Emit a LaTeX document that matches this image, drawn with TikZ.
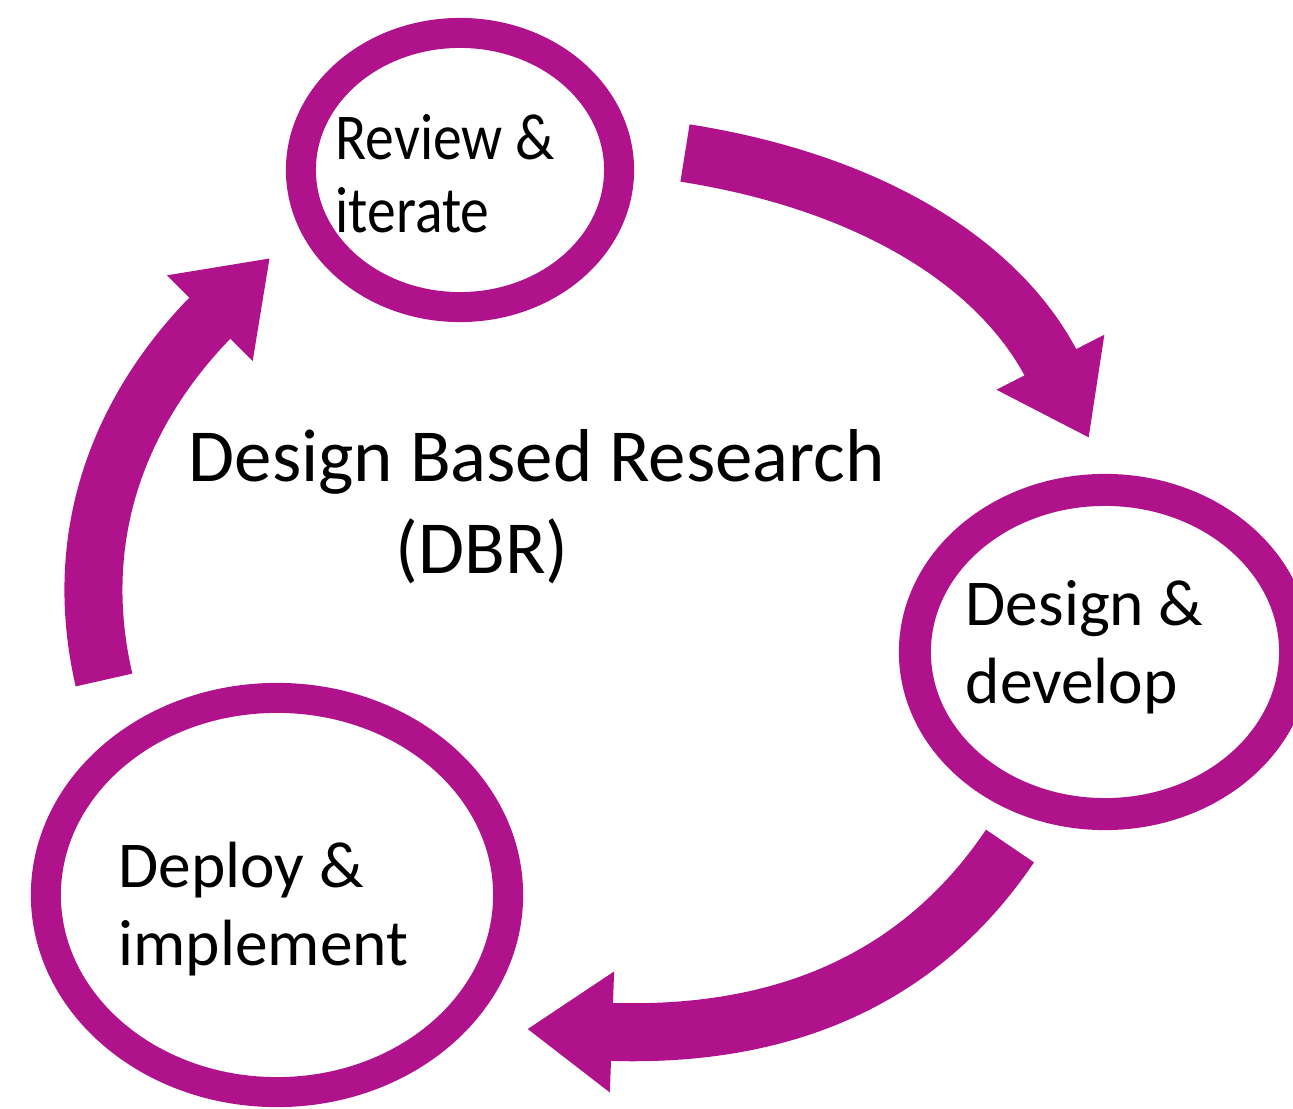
\documentclass[tikz,border=0pt]{standalone}
\usepackage{fontspec}
\setmainfont{Carlito}
\usetikzlibrary{arrows.meta,shapes.geometric}
\definecolor{dbrpurple}{RGB}{176,18,140}

\begin{document}
\begin{tikzpicture}[x=0.01cm, y=0.01cm,
        stage/.style={ellipse, draw=dbrpurple, line width=0.3cm, inner sep=0},
        stagetext/.style={align=left, inner sep=0, anchor=base west, font=\fontsize{18.6}{21.9}\selectfont},
        dbrarrow/.style={draw=dbrpurple, line width=0.58cm, -{Triangle[length=0.85cm, width=1.15cm]}}]
        \clip (0,0) rectangle (1293,-1109);

        \node[stage, minimum width=3.18cm, minimum height=2.74cm] (rev) at (460,-170) {};
        \node[stage, minimum width=3.80cm, minimum height=3.24cm, line width=0.32cm] (des) at (1105,-652) {};
        \node[stage, minimum width=4.62cm, minimum height=3.94cm] (dep) at (277,-895) {};

        \node[stagetext, font=\fontsize{18.6}{20.5}\selectfont, xscale=0.88, transform shape] (revtext) at ([shift={(-125,-62)}]rev.center) {Review \&\\iterate};
        \node[stagetext] (destext) at ([shift={(-140,-51)}]des.center) {Design \&\\develop};
        \node[stagetext] (deptext) at ([shift={(-159,-70)}]dep.center) {Deploy \&\\implement};

        \node[anchor=base west, inner sep=0, font=\fontsize{21.3}{26}\selectfont] (title) at (188,-481) {Design Based Research};
        \node[anchor=base west, inner sep=0, font=\fontsize{21.3}{26}\selectfont] (dbr) at (395,-573) {(DBR)};

        % arrows round the cycle
        \coordinate (t1) at (685,-153);
        \coordinate (h1) at (1089,-438);
        \coordinate (t2) at (1010,-846);
        \coordinate (h2) at (527,-1029);
        \coordinate (t3) at (104,-680);
        \coordinate (h3) at (270,-258);
        \draw[dbrarrow] (t1) to[out=-9, in=117] (h1);
        \draw[dbrarrow] (t2) to[out=236, in=-2] (h2);
        \draw[dbrarrow] (t3) to[out=103, in=225] (h3);
\end{tikzpicture}
\end{document}
